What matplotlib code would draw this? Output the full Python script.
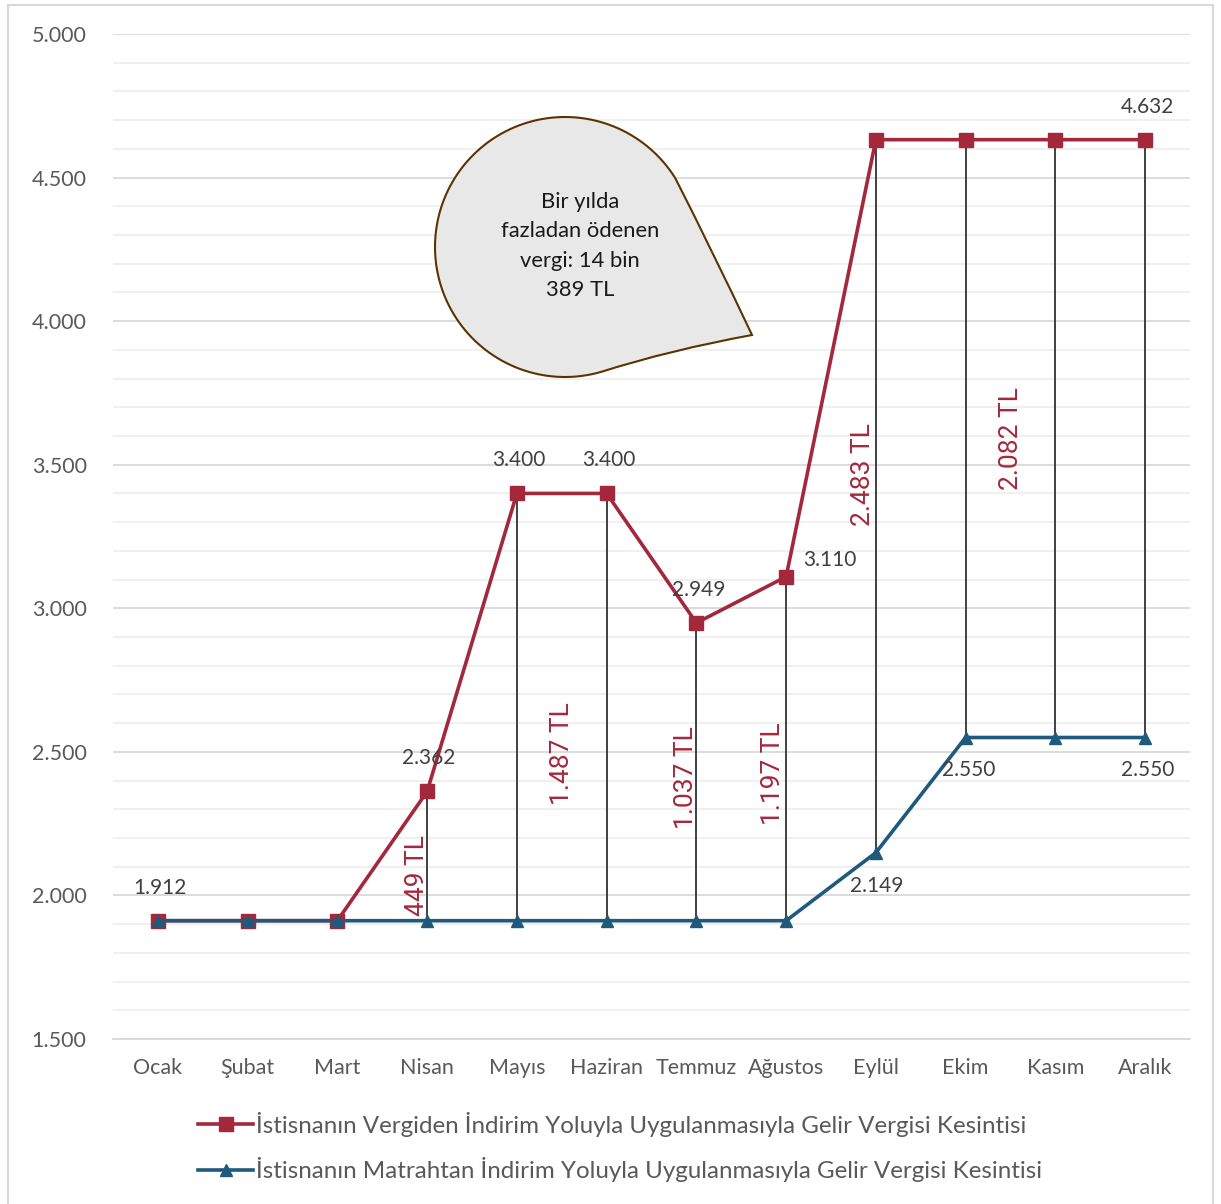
import matplotlib
matplotlib.use("Agg")
import matplotlib.pyplot as plt
import numpy as np
from matplotlib.path import Path
from matplotlib.patches import PathPatch, Rectangle
from matplotlib.lines import Line2D
from matplotlib.ticker import MultipleLocator, FuncFormatter

plt.rcParams['font.family'] = ['Lato', 'DejaVu Sans']

# ---------------- data ----------------
months = ["Ocak", "Şubat", "Mart", "Nisan", "Mayıs", "Haziran", "Temmuz",
          "Ağustos", "Eylül", "Ekim", "Kasım", "Aralık"]
vergiden = [1912, 1912, 1912, 2362, 3400, 3400, 2949, 3110, 4632, 4632, 4632, 4632]
matrahtan = [1912, 1912, 1912, 1912, 1912, 1912, 1912, 1912, 2149, 2550, 2550, 2550]
series_names = ["İstisnanın Vergiden İndirim Yoluyla Uygulanmasıyla Gelir Vergisi Kesintisi",
                "İstisnanın Matrahtan İndirim Yoluyla Uygulanmasıyla Gelir Vergisi Kesintisi"]
gap_labels = ["449 TL", "1.487 TL", "1.037 TL", "1.197 TL", "2.483 TL", "2.082 TL"]
callout_text = "Bir yılda\nfazladan ödenen\nvergi: 14 bin\n389 TL"

# ---------------- styling / layout ----------------
RED = '#A3283B'
BLUE = '#1F5A7C'
GRAY_TXT = '#595959'
LBL_TXT = '#404040'

W, H = 1221, 1204
fig = plt.figure(figsize=(W / 100, H / 100), dpi=100)
ax = fig.add_axes([113 / W, 1 - 1039 / H, (1190 - 113) / W, (1039 - 34) / H])

x = np.arange(len(months))

ax.set_xlim(-0.5, len(months) - 0.5)
ax.set_ylim(1500, 5000)
ax.yaxis.set_major_locator(MultipleLocator(500))
ax.yaxis.set_minor_locator(MultipleLocator(100))
ax.yaxis.set_major_formatter(FuncFormatter(lambda v, p: f"{int(v):,}".replace(",", ".")))
ax.grid(which='minor', axis='y', color='#F0F0F0', lw=1.5, zorder=0)
ax.grid(which='major', axis='y', color='#D9D9D9', lw=1.3, zorder=0)
ax.set_axisbelow(True)
for s in ['top', 'right', 'left']:
    ax.spines[s].set_visible(False)
ax.spines['bottom'].set_color('#D9D9D9')
ax.spines['bottom'].set_linewidth(1.3)
ax.tick_params(axis='both', which='both', length=0, colors=GRAY_TXT, labelsize=15.5)
ax.tick_params(axis='y', pad=19)
ax.tick_params(axis='x', pad=14)
ax.set_xticks(x)
ax.set_xticklabels(months)

# high-low (drop) lines
lo = np.minimum(vergiden, matrahtan)
hi = np.maximum(vergiden, matrahtan)
ax.vlines(x, lo, hi, color='#404040', lw=1.4, zorder=2)

ax.plot(x, vergiden, color=RED, lw=2.6, marker='s', ms=10, mfc=RED, mec=RED, zorder=3)
ax.plot(x, matrahtan, color=BLUE, lw=2.6, marker='^', ms=9, mfc=BLUE, mec=BLUE, zorder=4)

px = 72 / 100  # pixels -> points

def lab(i, val, dx, dy, ha='center'):
    ax.annotate(f"{val:,}".replace(",", "."), (x[i], val), xytext=(dx * px, dy * px),
                textcoords='offset points', ha=ha, va='center', fontsize=15, color=LBL_TXT,
                zorder=6)

for i in [0, 3, 4, 5, 6, 11]:
    lab(i, vergiden[i], 2, 33)
lab(7, vergiden[7], 17, 17, ha='left')
lab(8, matrahtan[8], 1, -33)
for i in [9, 11]:
    lab(i, matrahtan[i], 3, -33)

# rotated gap labels (layout positions)
gap_pos = [(3 - 0.11, 2068), (4.5, 2493), (6 - 0.12, 2409), (7 - 0.145, 2423),
           (8 - 0.145, 3464), (9.5, 3590)]
for t, (gx, gy) in zip(gap_labels, gap_pos):
    ax.text(gx, gy, t, rotation=90, ha='center', va='center', color=RED,
            fontsize=19, family=['Roboto', 'DejaVu Sans'], zorder=5)

# callout bubble (figure pixel coords, y up)
cx, cy, r = 565, H - 247, 130
a1, a2 = np.deg2rad(32), np.deg2rad(286)
th = np.linspace(a1, a2, 120)
verts = [(cx + r * np.cos(t), cy + r * np.sin(t)) for t in th]
codes = [Path.MOVETO] + [Path.LINETO] * (len(verts) - 1)
tip = (752, H - 335)
verts += [(670, H - 350), tip]
codes += [Path.CURVE3, Path.CURVE3]
verts += [(712, H - 250), verts[0]]
codes += [Path.CURVE3, Path.CURVE3]
verts.append(verts[0])
codes.append(Path.CLOSEPOLY)
vpx = np.array(verts) / 100.0
bubble = PathPatch(Path(vpx, codes), transform=fig.dpi_scale_trans, facecolor='#E8E8E8',
                   edgecolor='#5C3300', lw=1.5, zorder=10)
fig.patches.append(bubble)
fig.text(580 / W, 1 - 246 / H, callout_text, ha='center', va='center', fontsize=15.8,
         color='#1a1a1a', linespacing=1.58, zorder=11)

# legend
handles = [Line2D([], [], color=RED, lw=2.6, marker='s', ms=10),
           Line2D([], [], color=BLUE, lw=2.6, marker='^', ms=9)]
fig.legend(handles, series_names, loc='center', bbox_to_anchor=(620 / W, 1 - 1147 / H),
           ncol=1, frameon=False, fontsize=17.4, handlelength=2.27, handletextpad=0.1,
           labelspacing=0.85, labelcolor=GRAY_TXT)

# outer border
fig.patches.append(Rectangle((8 / W, -0.01), (1213 - 8) / W, 1 - 5 / H + 0.01,
                             transform=fig.transFigure, fill=False, edgecolor='#D9D9D9',
                             lw=1.5))

fig.savefig('out.png', dpi=100)
